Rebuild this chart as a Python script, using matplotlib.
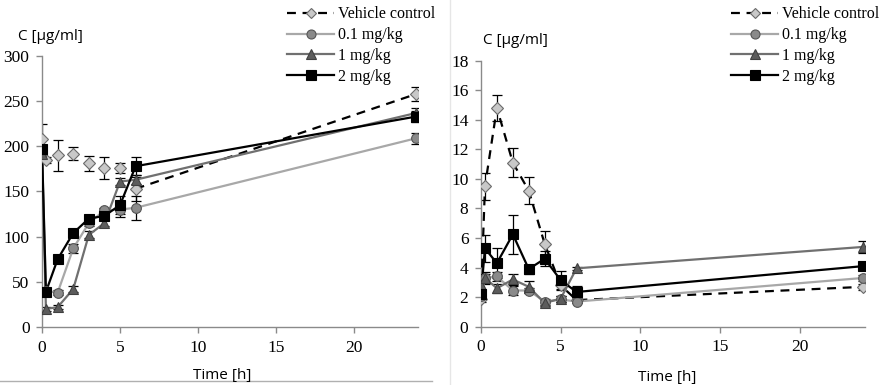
import matplotlib
matplotlib.use("Agg")
import matplotlib.pyplot as plt
from matplotlib.lines import Line2D
import numpy as np

# sampling times [h]
t = [0, 0.25, 1, 2, 3, 4, 5, 6, 24]
groups = ["Vehicle control", "0.1 mg/kg", "1 mg/kg", "2 mg/kg"]

# left panel, C [ug/ml]
left_vals = {
    "Vehicle control": [208, 185, 190, 192, 181, 176, 176, 153, 258],
    "0.1 mg/kg": [193, 40, 38, 87, 115, 129, 130, 132, 209],
    "1 mg/kg": [192, 20, 22, 42, 102, 115, 161, 163, 237],
    "2 mg/kg": [197, 39, 75, 104, 120, 123, 135, 178, 233],
}
left_err = {
    "Vehicle control": [17, 3, 17, 7, 8, 12, 6, 13, 8],
    "0.1 mg/kg": [3, 2, 3, 5, 3, 3, 8, 13, 6],
    "1 mg/kg": [3, 2, 2, 3, 4, 3, 4, 5, 5],
    "2 mg/kg": [5, 3, 3, 3, 3, 4, 10, 10, 6],
}

# right panel, C [ug/ml]
right_vals = {
    "Vehicle control": [1.9, 9.5, 14.8, 11.1, 9.2, 5.6, 2.8, 1.8, 2.7],
    "0.1 mg/kg": [2.1, 3.3, 3.4, 2.45, 2.45, 1.7, 1.85, 1.7, 3.3],
    "1 mg/kg": [2.8, 3.3, 2.6, 3.2, 2.7, 1.6, 1.9, 3.95, 5.4],
    "2 mg/kg": [2.2, 5.3, 4.3, 6.25, 3.9, 4.6, 3.15, 2.35, 4.1],
}
right_err = {
    "Vehicle control": [0.2, 0.9, 0.9, 1.0, 0.9, 0.9, 0.3, 0.2, 0.2],
    "0.1 mg/kg": [0.2, 0.3, 0.3, 0.3, 0.2, 0.2, 0.2, 0.1, 0.2],
    "1 mg/kg": [0.3, 0.4, 0.3, 0.4, 0.4, 0.2, 0.2, 0.1, 0.4],
    "2 mg/kg": [0.2, 0.9, 1.0, 1.3, 0.3, 0.5, 0.6, 0.4, 0.2],
}

styles = {
    "Vehicle control": dict(color="black", ls=(0, (4, 3)), marker="D", mfc="#c8c8c8", mec="#6a6a6a", ms=6, lw=1.6),
    "0.1 mg/kg": dict(color="#a8a8a8", ls="-", marker="o", mfc="#8a8a8a", mec="#555555", ms=7, lw=1.6),
    "1 mg/kg": dict(color="#707070", ls="-", marker="^", mfc="#5c5c5c", mec="#404040", ms=7, lw=1.6),
    "2 mg/kg": dict(color="black", ls="-", marker="s", mfc="black", mec="black", ms=7, lw=1.6),
}

serif = "Liberation Serif"
sans = "Open Sans"
axcol = "#8a8a8a"

fig = plt.figure(figsize=(8.83, 3.85), dpi=100)
ax1 = fig.add_axes([0.0476, 0.1506, 0.4258, 0.704])
ax2 = fig.add_axes([0.5447, 0.1514, 0.4349, 0.691])


def draw(ax, vals, errs, ymax, ystep, dashed_from):
    for g in groups:
        st = dict(styles[g])
        y = np.array(vals[g], dtype=float)
        ax.errorbar(t, y, yerr=errs[g], fmt="none", ecolor="black", elinewidth=0.9,
                    capsize=3.5, capthick=0.9, zorder=2)
        if g == "Vehicle control":
            ax.plot(t[dashed_from:], y[dashed_from:], color=st["color"], ls=st["ls"], lw=st["lw"], zorder=3)
        else:
            ax.plot(t, y, color=st["color"], ls=st["ls"], lw=st["lw"], zorder=3)
        ax.plot(t, y, ls="none", marker=st["marker"], mfc=st["mfc"], mec=st["mec"],
                ms=st["ms"], mew=0.8, zorder=4)
    ax.set_xlim(0, 24.1)
    ax.set_ylim(0, ymax)
    ax.set_xticks([0, 5, 10, 15, 20])
    ax.set_yticks(np.arange(0, ymax + 0.1, ystep))
    for s in ["top", "right"]:
        ax.spines[s].set_visible(False)
    for s in ["left", "bottom"]:
        ax.spines[s].set_color(axcol)
        ax.spines[s].set_linewidth(1.0)
    ax.tick_params(direction="out", length=4, width=1.0, color=axcol, labelsize=12.5, pad=5)
    for lab in ax.get_xticklabels() + ax.get_yticklabels():
        lab.set_fontfamily(serif)


draw(ax1, left_vals, left_err, 300, 50, 7)
draw(ax2, right_vals, right_err, 18, 2, 0)


def legend_handles():
    hs = []
    for g in groups:
        st = styles[g]
        hs.append(Line2D([], [], color=st["color"], ls=st["ls"], lw=st["lw"], marker=st["marker"],
                         mfc=st["mfc"], mec=st["mec"], ms=st["ms"] - 0.5, mew=0.8))
    return hs


for x0 in (281 / 883, 725 / 883):
    fig.legend(legend_handles(), groups, loc="upper left", bbox_to_anchor=(x0, 1.0),
               frameon=False, handlelength=2.9, handletextpad=0.3, labelspacing=0.3,
               borderaxespad=0, prop=dict(family=serif, size=11.5))

fig.text(18 / 883, 1 - 37 / 385, "C [µg/ml]", family=sans, fontsize=11, va="center", ha="left")
fig.text(483 / 883, 1 - 40 / 385, "C [µg/ml]", family=sans, fontsize=11, va="center", ha="left")
fig.text(222 / 883, 1 - 376 / 385, "Time [h]", family=sans, fontsize=11, va="center", ha="center")
fig.text(667 / 883, 1 - 377 / 385, "Time [h]", family=sans, fontsize=11, va="center", ha="center")

# faint frame lines from the source layout
fig.add_artist(Line2D([0, 432 / 883], [1 - 381 / 385] * 2, color="#b0b0b0", lw=1.0))
fig.add_artist(Line2D([450 / 883] * 2, [0, 1], color="#e6e6e6", lw=1.0))

fig.savefig("out.png", dpi=100)
